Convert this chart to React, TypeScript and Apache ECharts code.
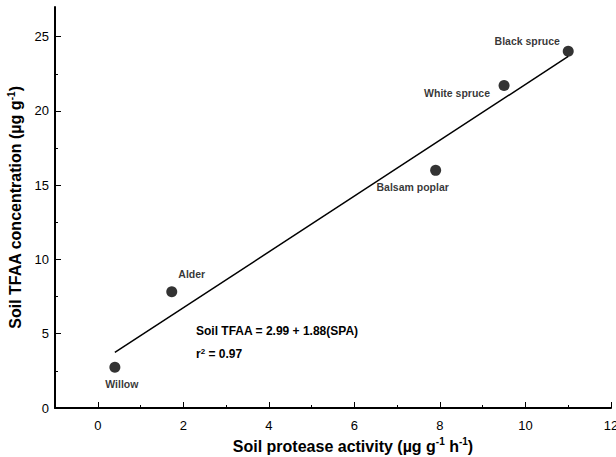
import React, { useEffect, useRef } from "react";
import * as echarts from "echarts";

const sites = ["Willow", "Alder", "Balsam poplar", "White spruce", "Black spruce"];
const spaValues = [0.4, 1.73, 7.9, 9.5, 11.0];
const tfaaValues = [2.75, 7.82, 16.0, 21.72, 24.02];
const labelOffsets = [
  [7, 17],
  [20, -18],
  [-23, 17],
  [-47, 8],
  [-41, -10],
];

const regIntercept = 2.99;
const regSlope = 1.88;
const regXRange = [0.4, 11.0];

const xMajorTicks = [0, 2, 4, 6, 8, 10, 12];
const xMinorTicks = [-1, 1, 3, 5, 7, 9, 11];
const yMajorTicks = [0, 5, 10, 15, 20, 25];
const yMinorTicks = [2.5, 7.5, 12.5, 17.5, 22.5];

const FONT = "'Liberation Sans', Arial, Helvetica, sans-serif";

export default function App() {
  const ref = useRef<HTMLDivElement>(null);

  useEffect(() => {
    if (!ref.current) return;
    const chart = echarts.init(ref.current, null, { renderer: "svg" });

    const lineData = regXRange.map((x) => [x, regIntercept + regSlope * x]);

    const axisCommon = {
      min: -1,
      max: 12,
      splitLine: { show: false },
    };

    const supStyle = {
      fontSize: 10,
      fontWeight: "bold",
      color: "#000",
      verticalAlign: "top",
      padding: [0, 0, 9, 0],
      fontFamily: FONT,
    };

    chart.setOption({
      animation: false,
      backgroundColor: "#fff",
      textStyle: { fontFamily: FONT },
      grid: {
        left: 55,
        right: 5,
        top: 7,
        bottom: 49,
        containLabel: false,
        outerBoundsMode: "none",
      },
      xAxis: [
        {
          type: "value",
          ...axisCommon,
          position: "bottom",
          axisLine: { show: true, onZero: false, lineStyle: { color: "#000", width: 2 } },
          axisTick: { show: true, inside: true, length: 6, customValues: xMajorTicks, lineStyle: { color: "#000", width: 1 } },
          axisLabel: { show: true, customValues: xMajorTicks, color: "#000", fontSize: 13, margin: 11, fontFamily: FONT },
          name: "Soil protease activity (µg g{sup|-1} h{sup|-1})",
          nameLocation: "middle",
          nameGap: 25,
          nameTextStyle: {
            color: "#000",
            fontSize: 16,
            fontWeight: "bold",
            fontFamily: FONT,
            padding: [0, 0, 0, 40],
            rich: { sup: supStyle },
          },
        },
        {
          type: "value",
          ...axisCommon,
          position: "bottom",
          axisLine: { show: false, onZero: false },
          axisTick: { show: true, inside: true, length: 3, customValues: xMinorTicks, lineStyle: { color: "#000", width: 1 } },
          axisLabel: { show: false },
        },
      ],
      yAxis: [
        {
          type: "value",
          min: 0,
          max: 27,
          splitLine: { show: false },
          position: "left",
          axisLine: { show: true, onZero: false, lineStyle: { color: "#000", width: 2 } },
          axisTick: { show: true, inside: true, length: 6, customValues: yMajorTicks, lineStyle: { color: "#000", width: 1 } },
          axisLabel: { show: true, customValues: yMajorTicks, color: "#000", fontSize: 13, margin: 6, fontFamily: FONT },
          name: "Soil TFAA concentration (µg g{sup|-1})",
          nameLocation: "middle",
          nameGap: 23,
          nameTextStyle: {
            color: "#000",
            fontSize: 16,
            fontWeight: "bold",
            fontFamily: FONT,
            rich: { sup: supStyle },
          },
        },
        {
          type: "value",
          min: 0,
          max: 27,
          splitLine: { show: false },
          position: "left",
          axisLine: { show: false, onZero: false },
          axisTick: { show: true, inside: true, length: 3, customValues: yMinorTicks, lineStyle: { color: "#000", width: 1 } },
          axisLabel: { show: false },
        },
      ],
      series: [
        {
          type: "line",
          xAxisIndex: 0,
          yAxisIndex: 0,
          data: lineData,
          showSymbol: false,
          symbol: "none",
          lineStyle: { color: "#000", width: 1.5 },
          silent: true,
        },
        {
          type: "scatter",
          xAxisIndex: 0,
          yAxisIndex: 0,
          symbol: "circle",
          symbolSize: 11,
          itemStyle: { color: "#000" },
          data: sites.map((name, i) => ({
            name,
            value: [spaValues[i], tfaaValues[i]],
            label: {
              show: true,
              position: "inside",
              offset: labelOffsets[i],
              formatter: name,
              color: "#000",
              fontSize: 10.5,
              fontWeight: "bold",
              fontFamily: FONT,
            },
          })),
        },
      ],
      graphic: [
        {
          type: "text",
          left: 196,
          top: 325,
          style: {
            text: "Soil TFAA = 2.99 + 1.88(SPA)",
            fill: "#000",
            font: `bold 12px ${FONT}`,
          },
        },
        {
          type: "text",
          left: 196,
          top: 347,
          style: {
            text: "r{sup|2} = 0.97",
            fill: "#000",
            font: `bold 12px ${FONT}`,
            rich: {
              sup: { fontSize: 8, fontWeight: "bold", fill: "#000", verticalAlign: "top", padding: [0, 0, 6, 0], fontFamily: FONT },
            },
          },
        },
      ],
    });

    return () => chart.dispose();
  }, []);

  return (
    <div
      ref={ref}
      style={{ position: "fixed", left: 0, top: 0, width: 616, height: 457, background: "#fff" }}
    />
  );
}
